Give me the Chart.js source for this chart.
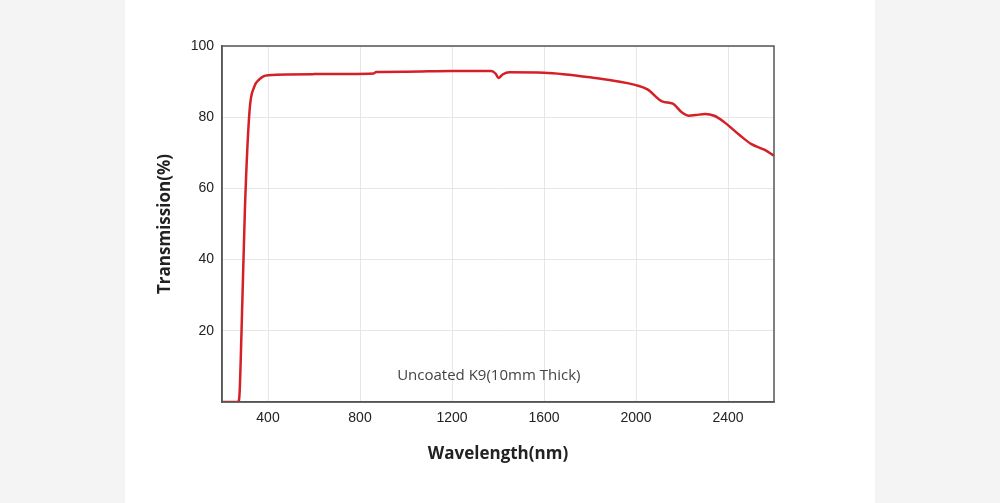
<!DOCTYPE html>
<html>
<head>
<meta charset="utf-8">
<script src="https://cdn.jsdelivr.net/npm/chart.js@4"></script>
<style>
  html, body { margin: 0; padding: 0; background: #f4f4f4; }
  #wrap { position: relative; width: 1000px; height: 503px; }
  #panel { position: absolute; left: 125px; top: 0; width: 750px; height: 503px; background: #fff; }
  canvas { position: absolute; left: 0; top: 0; }
</style>
</head>
<body>
<div id="wrap">
  <div id="panel"></div>
  <canvas id="chart" width="1000" height="503"></canvas>
</div>
<script>
const wavelengths = [200, 270, 276, 285, 300, 320, 340, 360, 380, 400, 600, 860, 870, 1000, 1200, 1370, 1390, 1402, 1420, 1450, 1600, 1800, 2000, 2050, 2100, 2120, 2160, 2200, 2230, 2260, 2300, 2340, 2380, 2450, 2500, 2560, 2600];
const transmission = [0, 0, 2, 20, 55, 82, 88.5, 90.5, 91.5, 91.8, 92.1, 92.3, 92.7, 92.8, 93, 93, 92.2, 91, 92, 92.6, 92.5, 91.2, 89, 87.8, 85, 84.3, 83.8, 81.3, 80.4, 80.6, 80.9, 80.4, 78.8, 75, 72.5, 70.8, 69.2];
const xTicks = [400, 800, 1200, 1600, 2000, 2400];
const yTicks = [20, 40, 60, 80, 100];
const noteText = "Uncoated K9(10mm Thick)";

const points = wavelengths.map((w, i) => ({ x: w, y: transmission[i] }));

const notePlugin = {
  id: 'note',
  afterDatasetsDraw(chart) {
    const ctx = chart.ctx;
    const x = chart.scales.x.getPixelForValue(1360);
    const y = chart.scales.y.getPixelForValue(7.5);
    ctx.save();
    ctx.font = '15px "Open Sans", sans-serif';
    ctx.fillStyle = '#444';
    ctx.textAlign = 'center';
    ctx.textBaseline = 'middle';
    ctx.fillText(noteText, x, y);
    ctx.restore();
  }
};

new Chart(document.getElementById('chart'), {
  type: 'scatter',
  data: {
    datasets: [{
      data: points,
      showLine: true,
      borderColor: '#d42027',
      borderWidth: 2.5,
      pointRadius: 0,
      cubicInterpolationMode: 'monotone'
    }]
  },
  options: {
    responsive: false,
    animation: false,
    layout: { padding: { left: 155, right: 226, top: 46, bottom: 35 } },
    plugins: { legend: { display: false }, tooltip: { enabled: false } },
    scales: {
      x: {
        type: 'linear', min: 200, max: 2600,
        afterBuildTicks: s => { s.ticks = xTicks.map(v => ({ value: v })); },
        afterFit: s => { s.height = 66; },
        grid: { color: '#e6e6e6', drawTicks: false },
        border: { color: '#555', width: 1.5 },
        ticks: { color: '#222', padding: 8, font: { size: 14, family: 'Arial' }, callback: v => String(v) },
        title: { display: true, text: 'Wavelength(nm)', color: '#222', padding: { top: 10 },
                 font: { size: 17, weight: 'bold', family: '"Open Sans", sans-serif' } }
      },
      y: {
        min: 0, max: 100,
        afterBuildTicks: s => { s.ticks = yTicks.map(v => ({ value: v })); },
        afterFit: s => { s.width = 67; },
        grid: { color: '#e6e6e6', drawTicks: false },
        border: { color: '#555', width: 1.5 },
        ticks: { color: '#222', padding: 8, font: { size: 14, family: 'Arial' }, callback: v => String(v) },
        title: { display: true, text: 'Transmission(%)', color: '#222', padding: 0,
                 font: { size: 17, weight: 'bold', family: '"Open Sans", sans-serif' } }
      }
    }
  },
  plugins: [notePlugin, {
    id: 'frame',
    afterDraw(chart) {
      const a = chart.chartArea, ctx = chart.ctx;
      ctx.save();
      ctx.strokeStyle = '#555';
      ctx.lineWidth = 1.5;
      ctx.strokeRect(a.left, a.top, a.right - a.left, a.bottom - a.top);
      ctx.restore();
    }
  }]
});
</script>
</body>
</html>
